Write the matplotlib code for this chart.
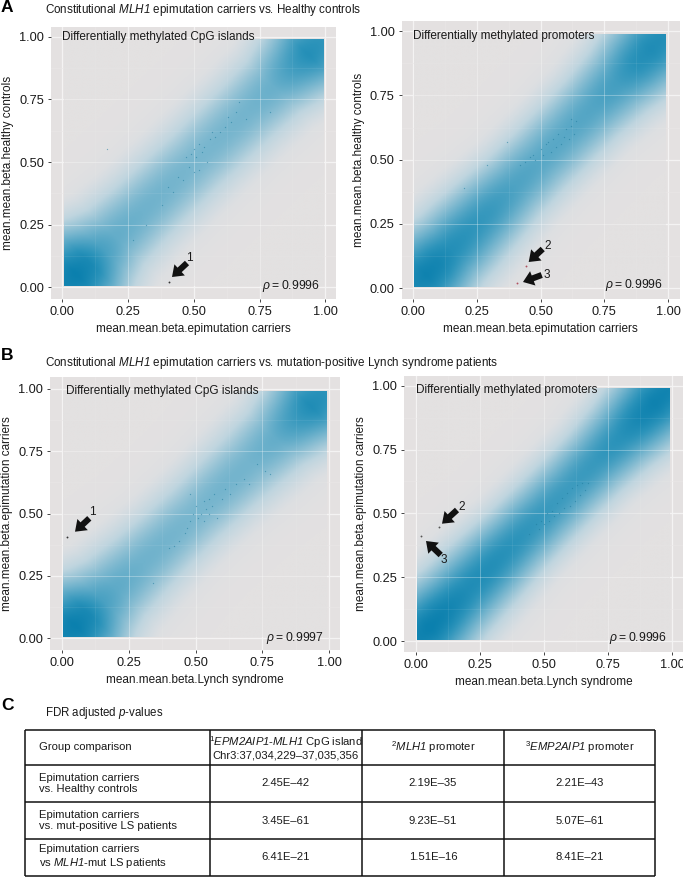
import numpy as np
import matplotlib
matplotlib.use("Agg")
import matplotlib.pyplot as plt
from matplotlib.colors import LinearSegmentedColormap

plt.rcParams['font.family'] = ['Liberation Sans', 'DejaVu Sans']
plt.rcParams['mathtext.fontset'] = 'custom'
plt.rcParams['mathtext.rm'] = 'Liberation Sans'
plt.rcParams['mathtext.it'] = 'Liberation Sans:italic'
# mathit forces digits upright, so gene names go through mathcal instead
plt.rcParams['mathtext.cal'] = 'Liberation Sans:italic'

W, H = 683, 877
TXT = '#1a1a1a'

tick_vals = [0.0, 0.25, 0.5, 0.75, 1.0]
tick_labels = ['0.00', '0.25', '0.50', '0.75', '1.00']

# density along the diagonal
t_pos = [0.0, 0.05, 0.1, 0.15, 0.2, 0.3, 0.4, 0.5, 0.6, 0.7, 0.8, 0.87, 0.93, 1.0]

a1_val = [0.95, 1.0, 0.93, 0.74, 0.64, 0.6, 0.58, 0.56, 0.57, 0.58, 0.62, 0.76, 0.88, 0.82]
a1_wid = [0.3, 0.3, 0.29, 0.27, 0.25, 0.24, 0.24, 0.24, 0.24, 0.24, 0.24, 0.25, 0.27, 0.27]

a2_val = [0.92, 0.98, 0.95, 0.88, 0.85, 0.8, 0.72, 0.68, 0.68, 0.7, 0.76, 0.86, 0.9, 0.88]
a2_wid = [0.27, 0.27, 0.26, 0.25, 0.25, 0.24, 0.23, 0.23, 0.23, 0.23, 0.24, 0.25, 0.26, 0.26]

b1_val = [0.95, 1.0, 0.93, 0.74, 0.66, 0.6, 0.58, 0.56, 0.58, 0.58, 0.64, 0.78, 0.9, 0.84]
b1_wid = [0.3, 0.3, 0.29, 0.27, 0.25, 0.24, 0.23, 0.23, 0.23, 0.24, 0.24, 0.25, 0.27, 0.27]

b2_val = [0.96, 1.0, 0.98, 0.94, 0.9, 0.88, 0.84, 0.8, 0.78, 0.8, 0.86, 0.94, 0.98, 0.96]
b2_wid = [0.26, 0.26, 0.25, 0.24, 0.24, 0.23, 0.22, 0.22, 0.22, 0.22, 0.23, 0.24, 0.25, 0.25]

# stray probes visible on top of the density
a1_x = [0.40, 0.27, 0.32, 0.38, 0.42, 0.44, 0.46, 0.47, 0.48, 0.49, 0.5, 0.5, 0.51, 0.52, 0.52, 0.53, 0.54, 0.55, 0.56, 0.57, 0.58, 0.6, 0.62, 0.63, 0.64, 0.66, 0.67, 0.7, 0.79, 0.17]
a1_y = [0.40, 0.19, 0.25, 0.33, 0.38, 0.44, 0.43, 0.52, 0.48, 0.53, 0.46, 0.55, 0.52, 0.47, 0.57, 0.54, 0.56, 0.5, 0.59, 0.62, 0.6, 0.62, 0.64, 0.68, 0.66, 0.7, 0.74, 0.67, 0.7, 0.55]

a2_x = [0.20, 0.29, 0.37, 0.42, 0.44, 0.46, 0.47, 0.48, 0.5, 0.51, 0.52, 0.53, 0.54, 0.55, 0.56, 0.57, 0.58, 0.59, 0.6, 0.61, 0.62, 0.63, 0.64, 0.62]
a2_y = [0.39, 0.48, 0.57, 0.48, 0.49, 0.51, 0.52, 0.5, 0.54, 0.52, 0.56, 0.57, 0.53, 0.58, 0.55, 0.6, 0.56, 0.59, 0.62, 0.58, 0.63, 0.6, 0.65, 0.66]

b1_x = [0.34, 0.4, 0.42, 0.44, 0.46, 0.47, 0.48, 0.49, 0.5, 0.51, 0.52, 0.53, 0.53, 0.54, 0.55, 0.55, 0.56, 0.57, 0.58, 0.6, 0.61, 0.63, 0.65, 0.68, 0.7, 0.73, 0.76, 0.78, 0.48]
b1_y = [0.22, 0.36, 0.37, 0.39, 0.42, 0.44, 0.47, 0.5, 0.53, 0.48, 0.5, 0.55, 0.47, 0.52, 0.5, 0.56, 0.53, 0.58, 0.48, 0.56, 0.6, 0.58, 0.62, 0.64, 0.62, 0.7, 0.67, 0.66, 0.58]

b2_x = [0.44, 0.47, 0.48, 0.49, 0.5, 0.51, 0.52, 0.53, 0.54, 0.55, 0.56, 0.57, 0.58, 0.59, 0.6, 0.61, 0.62, 0.63, 0.64, 0.65, 0.66, 0.67]
b2_y = [0.42, 0.46, 0.44, 0.47, 0.46, 0.5, 0.47, 0.51, 0.49, 0.54, 0.5, 0.56, 0.52, 0.58, 0.53, 0.6, 0.55, 0.61, 0.57, 0.62, 0.59, 0.62]

# the flagged probes the arrows point at
a1_hit = ([0.405], [0.02])
a2_hit = ([0.445, 0.41], [0.085, 0.02])
b1_hit = ([0.02], [0.405])
b2_hit = ([0.09, 0.02], [0.445, 0.41])

table_head = ['Group comparison',
              '$^{1}$$\\mathcal{EPM2AIP1}$-$\\mathcal{MLH1}$ CpG island\nChr3:37,034,229\u201337,035,356',
              '$^{2}$$\\mathcal{MLH1}$ promoter',
              '$^{3}$$\\mathcal{EMP2AIP1}$ promoter']
table_groups = ['Epimutation carriers\nvs. Healthy controls',
                'Epimutation carriers\nvs. mut-positive LS patients',
                'Epimutation carriers\nvs $\\mathcal{MLH1}$-mut LS patients']
table_col1 = ['2.45E\u201342', '3.45E\u201361', '6.41E\u201321']
table_col2 = ['2.19E\u201335', '9.23E\u201351', '1.51E\u201316']
table_col3 = ['2.21E\u201343', '5.07E\u201361', '8.41E\u201321']

cmap = LinearSegmentedColormap.from_list('dens', [
    (0.0, '#E3E1E1'), (0.1, '#DDDFE2'), (0.3, '#BFD5DF'),
    (0.6, '#6FB2CC'), (0.85, '#2B93BA'), (1.0, '#0B80AE')])


def panel(box, ticks_px, val, wid, px, py, hit, hit_col, xlabel, ylabel, label, rho):
    # box and tick positions are in pixels of the reference
    L, R, T, B = box
    x0, x1, y0, y1 = ticks_px
    ax = fig.add_axes([L / W, 1 - B / H, (R - L) / W, (B - T) / H])
    sx = x1 - x0
    sy = y0 - y1
    ax.set_facecolor('#E4E1E1')
    for s in ax.spines.values():
        s.set_visible(False)
    ax.set_xticks(tick_vals, tick_labels)
    ax.set_yticks(tick_vals, tick_labels)
    ax.set_xticks([0.125, 0.375, 0.625, 0.875], minor=True)
    ax.set_yticks([0.125, 0.375, 0.625, 0.875], minor=True)
    ax.tick_params(which='major', length=2.5, width=0.7, color='#444444', labelsize=9.2,
                   labelcolor=TXT, pad=2.5)
    ax.tick_params(which='minor', length=0)
    ax.grid(which='major', color='#F4F3F3', lw=0.9)
    ax.grid(which='minor', color='#EAE8E8', lw=0.4)
    ax.set_axisbelow(True)

    g = np.linspace(0.005, 0.99, 300)
    xx, yy = np.meshgrid(g, g)
    t = (xx + yy) / 2
    v = np.interp(t, t_pos, val)
    w = np.interp(t, t_pos, wid)
    dens = v * np.exp(-((xx - yy) / w) ** 2)
    ax.imshow(dens, extent=(0.005, 0.99, 0.005, 0.99), origin='lower', aspect='auto',
              cmap=cmap, vmin=0, vmax=1, zorder=1, interpolation='bilinear')
    ax.set_xlim((L - x0) / sx, (R - x0) / sx)
    ax.set_ylim((y0 - B) / sy, (y0 - T) / sy)

    # gridlines still show faintly through the density
    ax.vlines(tick_vals[1:-1], 0.005, 0.99, color='white', lw=0.7, alpha=0.3, zorder=2)
    ax.hlines(tick_vals[1:-1], 0.005, 0.99, color='white', lw=0.7, alpha=0.3, zorder=2)
    ax.vlines([0.125, 0.375, 0.625, 0.875], 0.005, 0.99, color='white', lw=0.4, alpha=0.12, zorder=2)
    ax.hlines([0.125, 0.375, 0.625, 0.875], 0.005, 0.99, color='white', lw=0.4, alpha=0.12, zorder=2)

    ax.scatter(px, py, s=0.9, color='#1F7C9E', alpha=0.55, linewidths=0, zorder=3)
    ax.scatter(hit[0], hit[1], s=1.8, color=hit_col, linewidths=0, zorder=3)

    ax.set_xlabel(xlabel, fontsize=8.45, color=TXT, labelpad=3.5)
    ax.set_ylabel(ylabel, fontsize=8.45, color=TXT, labelpad=3.5)
    ax.text(label[0], label[1], label[2], fontsize=8.45, color=TXT, va='center', zorder=5)
    ax.text(0.98, rho[0], '$\\rho$' + '\u2009=\u2009' + rho[1], fontsize=8.7, color=TXT, ha='right', va='center', zorder=5)
    return ax


fig = plt.figure(figsize=(W / 100, H / 100), dpi=100)

panel((51, 336, 27, 299), (62.3, 325.3, 287.3, 36.7), a1_val, a1_wid, a1_x, a1_y, a1_hit, '#333333',
      'mean.mean.beta.epimutation carriers', 'mean.mean.beta.healthy controls',
      (0.0, 1.0, 'Differentially methylated CpG islands'), (0.005, '0.9996'))
panel((401.7, 680, 21.3, 299), (412.7, 668.3, 288, 31.3), a2_val, a2_wid, a2_x, a2_y, a2_hit, '#B05060',
      'mean.mean.beta.epimutation carriers', 'mean.mean.beta.healthy controls',
      (0.0, 0.98, 'Differentially methylated promoters'), (0.01, '0.9996'))
panel((50, 340, 377, 650), (61.7, 329.3, 638.3, 388.7), b1_val, b1_wid, b1_x, b1_y, b1_hit, '#333333',
      'mean.mean.beta.Lynch syndrome', 'mean.mean.beta.epimutation carriers',
      (0.015, 0.99, 'Differentially methylated CpG islands'), (0.0, '0.9997'))
panel((404, 683, 376, 652), (416, 672, 641, 385.7), b2_val, b2_wid, b2_x, b2_y, b2_hit, '#555555',
      'mean.mean.beta.Lynch syndrome', 'mean.mean.beta.epimutation carriers',
      (0.0, 0.985, 'Differentially methylated promoters'), (0.01, '0.9996'))

# everything else sits on an overlay in pixel coordinates
ov = fig.add_axes([0, 0, 1, 1], facecolor='none')
ov.set_xlim(0, W)
ov.set_ylim(H, 0)
ov.axis('off')

for letter, y in [('A', 8), ('B', 356), ('C', 706)]:
    ov.text(1, y, letter, fontsize=12.5, fontweight='bold', color='black', va='center')

ov.text(45, 10.5, 'Constitutional $\\mathcal{MLH1}$ epimutation carriers vs. Healthy controls',
        fontsize=8.35, color=TXT, va='center')
ov.text(45, 363, 'Constitutional $\\mathcal{MLH1}$ epimutation carriers vs. mutation-positive Lynch syndrome patients',
        fontsize=8.35, color=TXT, va='center')
ov.text(45, 713, 'FDR adjusted $\\mathcal{p}$-values', fontsize=8.3, color=TXT, va='center')

arrows = [((172, 277), (187, 263)), ((528.7, 262), (542.7, 249)), ((523, 282), (541.7, 275)),
          ((75, 531.7), (89.3, 518.3)), ((442, 523.7), (457, 510)), ((426, 541), (440.7, 555))]
for tip, tail in arrows:
    ov.annotate('', xy=tip, xytext=tail,
                arrowprops=dict(facecolor='#111111', edgecolor='none', width=4.4, headwidth=11,
                                headlength=7.5, shrink=0))
for s, x, y in [('1', 189, 258), ('2', 548, 246), ('3', 547, 275),
                ('1', 92, 512), ('2', 461.7, 507), ('3', 444, 560)]:
    ov.text(x, y, s, fontsize=8.5, color=TXT, ha='center', va='center')

# table C
col_x = [25, 209.5, 362, 504, 655]
row_y = [730, 765, 802, 839, 876]
ov.hlines(row_y, col_x[0], col_x[-1], color='#111111', lw=1.1)
ov.vlines(col_x, row_y[0], row_y[-1], color='#111111', lw=1.1)
cols = [table_groups, table_col1, table_col2, table_col3]
for j, h in enumerate(table_head):
    if j == 0:
        ov.text(col_x[0] + 14, (row_y[0] + row_y[1]) / 2, h, fontsize=8.15, color=TXT, va='center')
    else:
        ov.text((col_x[j] + col_x[j + 1]) / 2, (row_y[0] + row_y[1]) / 2, h, fontsize=8.15, color=TXT,
                ha='center', va='center', linespacing=1.15)
    for i, c in enumerate(cols[j]):
        ym = (row_y[i + 1] + row_y[i + 2]) / 2
        if j == 0:
            ov.text(col_x[0] + 14, ym, c, fontsize=8.15, color=TXT, va='center', linespacing=1.2)
        else:
            ov.text((col_x[j] + col_x[j + 1]) / 2, ym, c, fontsize=8.15, color=TXT, ha='center', va='center')

fig.savefig('out.png', dpi=100)
